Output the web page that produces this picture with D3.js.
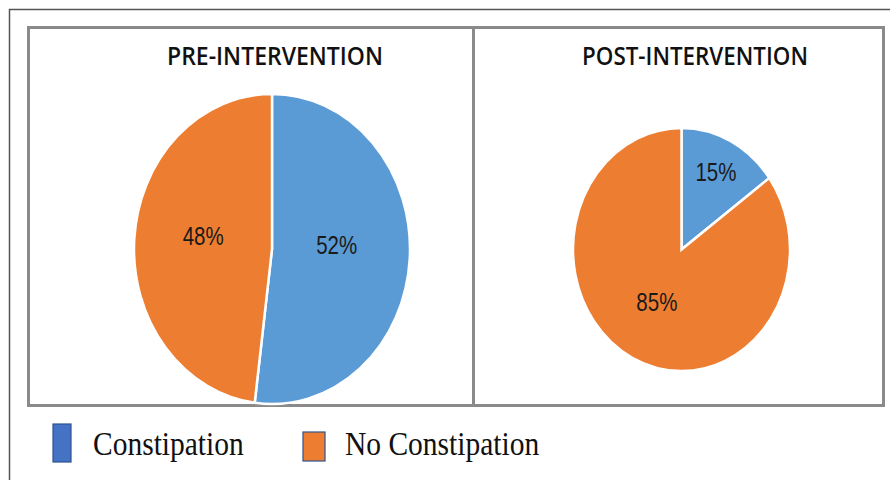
<!DOCTYPE html>
<html>
<head>
<meta charset="utf-8">
<script src="https://cdn.jsdelivr.net/npm/d3@7"></script>
<style>
  body { margin: 0; background: #fff; }
  svg { display: block; }
</style>
</head>
<body>
<div id="chart"></div>
<script>
// Data
var categories = ["Constipation", "No Constipation"];
var preValues = [52, 48];
var postValues = [15, 85];
var panelTitles = ["PRE-INTERVENTION", "POST-INTERVENTION"];

var colors = ["#5b9bd5", "#ed7d31"];
var legendColors = ["#4472c4", "#ed7d31"];

var width = 890, height = 480;
var svg = d3.select("#chart").append("svg")
    .attr("width", width).attr("height", height);

// outer frame (left and top edges only visible)
svg.append("path")
    .attr("d", "M9.5,480 L9.5,9.5 L890,9.5")
    .attr("fill", "none").attr("stroke", "#555").attr("stroke-width", 1.5);

// inner panel box + divider
svg.append("rect")
    .attr("x", 28.5).attr("y", 27.5).attr("width", 855).attr("height", 378)
    .attr("fill", "none").attr("stroke", "#8a8a8a").attr("stroke-width", 3);
svg.append("line")
    .attr("x1", 473.5).attr("x2", 473.5).attr("y1", 27.5).attr("y2", 405.5)
    .attr("stroke", "#8a8a8a").attr("stroke-width", 3);

var charts = [
    {title: panelTitles[0], values: preValues, cx: 272, cy: 249, rx: 138, ry: 155, tx: 275, tw: 216, lab: [0.47, 0.5], dy: -9},
    {title: panelTitles[1], values: postValues, cx: 681.5, cy: 249.5, rx: 108.5, ry: 121.5, tx: 695, tw: 226, lab: [0.7, 0.5], dy: -2}
];

var pie = d3.pie().sort(null).value(function (d) { return d; });

charts.forEach(function (c) {
    // title
    svg.append("text")
        .attr("transform", "translate(" + c.tx + ",65) scale(1,1.25)")
        .attr("text-anchor", "middle")
        .attr("font-family", "'Open Sans', sans-serif")
        .attr("font-size", 20)
        .attr("font-weight", 600)
        .attr("textLength", c.tw)
        .attr("lengthAdjust", "spacingAndGlyphs")
        .attr("fill", "#111")
        .text(c.title);

    var k = c.ry / c.rx;
    var g = svg.append("g")
        .attr("transform", "translate(" + c.cx + "," + c.cy + ") scale(1," + k + ")");
    var arc = d3.arc().innerRadius(0).outerRadius(c.rx);
    var arcs = pie(c.values);

    g.selectAll("path").data(arcs).enter().append("path")
        .attr("d", arc)
        .attr("fill", function (d, i) { return colors[i]; })
        .attr("stroke", "#fff")
        .attr("stroke-width", 2.5)
        .attr("vector-effect", "non-scaling-stroke");

    arcs.forEach(function (d, i) {
        var r = c.rx * c.lab[i];
        var la = d3.arc().innerRadius(r).outerRadius(r);
        var p = la.centroid(d);
        svg.append("text")
            .attr("transform", "translate(" + (c.cx + p[0]) + "," + (c.cy + p[1] * k + c.dy) + ") scale(1,1.3)")
            .attr("text-anchor", "middle")
            .attr("dominant-baseline", "central")
            .attr("font-family", "'Liberation Sans', Arial, sans-serif")
            .attr("font-size", 20.5)
            .attr("fill", "#1a1a1a")
            .text(d.data + "%");
    });
});

// legend
var legendX = [53, 303];
var legendBox = [{y: 424, w: 18, h: 38}, {y: 432, w: 22, h: 29}];
var legendTextX = [93, 345];
categories.forEach(function (name, i) {
    svg.append("rect")
        .attr("x", legendX[i]).attr("y", legendBox[i].y)
        .attr("width", legendBox[i].w).attr("height", legendBox[i].h)
        .attr("fill", legendColors[i])
        .attr("stroke", "#2f528f").attr("stroke-width", 1.2);
    svg.append("text")
        .attr("transform", "translate(" + legendTextX[i] + ",455) scale(1,1.12)")
        .attr("font-family", "'Liberation Serif', 'Times New Roman', serif")
        .attr("font-size", 29.5)
        .attr("fill", "#111")
        .text(name);
});
</script>
</body>
</html>
